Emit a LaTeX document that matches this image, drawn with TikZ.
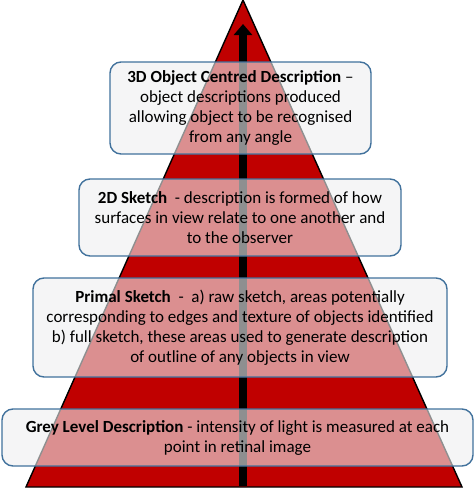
\documentclass[tikz,border=0pt]{standalone}
\usepackage{fontspec}
\setmainfont{Carlito}
\usetikzlibrary{arrows.meta}
\definecolor{pyrred}{HTML}{C00000}
\definecolor{boxblue}{HTML}{41719C}
\definecolor{boxfill}{HTML}{EEEFF0}
\tikzset{
  layerbox/.style={draw=boxblue, line width=1.4pt, rounded corners=11pt,
    fill=boxfill, fill opacity=0.6, text opacity=1, draw opacity=1,
    align=center, inner sep=0pt, font=\fontsize{17}{20}\selectfont},
  pyramid/.style={draw=black, line width=1.4pt, fill=pyrred},
  upflow/.style={draw=black, line width=8pt, -{Triangle[width=18pt,length=11pt]}}
}
\begin{document}
\begin{tikzpicture}[x=1pt,y=-1pt]
\useasboundingbox (0,0) rectangle (474,488);
\coordinate (apex) at (243,0);
\coordinate (bl) at (26,487);
\coordinate (br) at (462,487);
\draw[pyramid] (apex) -- (br) -- (bl) -- cycle;
\coordinate (arrbase) at (243,486);
\coordinate (arrtip) at (243,24);
\draw[upflow] (arrbase) -- (arrtip);
\node[layerbox, minimum width=261pt, minimum height=92pt] (obj3d) at (240.5,108)
  {\textbf{3D Object Centred Description} --\\object descriptions produced\\allowing object to be recognised\\from any angle};
\node[layerbox, minimum width=322pt, minimum height=77pt] (sk2d) at (240,217.5)
  {\textbf{2D Sketch}\ \ - description is formed of how\\surfaces in view relate to one another and\\to the observer};
\node[layerbox, minimum width=414pt, minimum height=99pt] (primal) at (240,327.5)
  {\textbf{Primal Sketch}\ \ -\ \ a) raw sketch, areas potentially\\corresponding to edges and texture of objects identified\\b) full sketch, these areas used to generate description\\of outline of any objects in view};
\node[layerbox, minimum width=471pt, minimum height=57pt] (grey) at (237.5,437.5)
  {\textbf{Grey Level Description} - intensity of light is measured at each\\point in retinal image};
\end{tikzpicture}
\end{document}
